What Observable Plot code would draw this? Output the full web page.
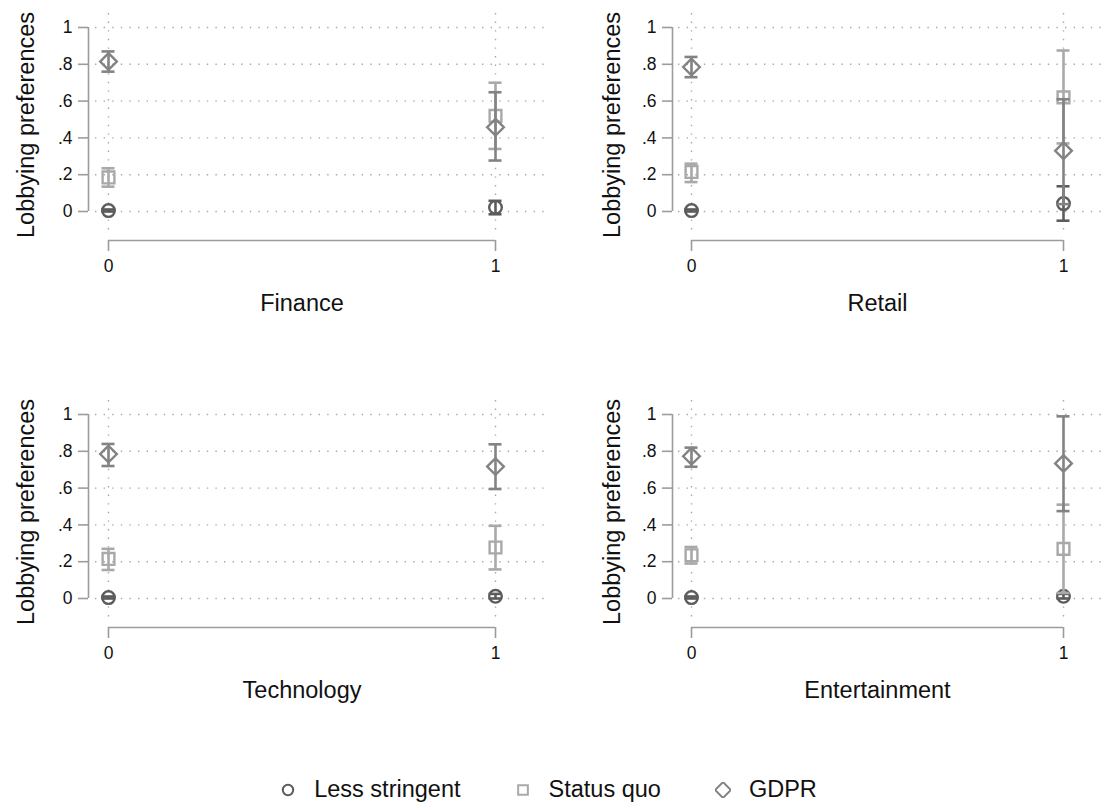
<!DOCTYPE html>
<html>
<head>
<meta charset="utf-8">
<script src="https://cdn.jsdelivr.net/npm/d3@7"></script>
<script src="https://cdn.jsdelivr.net/npm/@observablehq/plot@0.6"></script>
<style>
  body { margin: 0; background: #fff; font-family: "Liberation Sans", Arial, Helvetica, sans-serif; }
  #wrap { width: 1111px; height: 807px; position: relative; overflow: hidden; background: #fff; }
  .panel { position: absolute; }
  #legend { position: absolute; left: 0; top: 773px; width: 1097px; height: 33px; padding-right: 14px;
            display: flex; justify-content: center; align-items: center; font-size: 23.5px; color: #111; }
  .item { display: flex; align-items: center; margin: 0 27px; }
  .item svg { margin-right: 18px; }
</style>
</head>
<body>
<div id="wrap"><div id="legend"></div></div>
<script>
// ---------- data ----------
const sectors = ["Finance", "Retail", "Technology", "Entertainment"];
const xValues = [0, 1];
const yTicks = [0, 0.2, 0.4, 0.6, 0.8, 1];
const seriesNames = ["Less stringent", "Status quo", "GDPR"];

// values ordered: Finance x0, Finance x1, Retail x0, Retail x1, Technology x0, Technology x1, Entertainment x0, Entertainment x1
const lessMean = [0.005, 0.022, 0.005, 0.043, 0.005, 0.012, 0.005, 0.012];
const lessLo   = [0.000, -0.015, 0.000, -0.050, 0.000, 0.000, 0.000, 0.000];
const lessHi   = [0.011, 0.058, 0.011, 0.137, 0.011, 0.025, 0.011, 0.025];

const sqMean = [0.185, 0.52, 0.215, 0.62, 0.215, 0.277, 0.235, 0.27];
const sqLo   = [0.135, 0.34, 0.160, 0.37, 0.155, 0.158, 0.190, 0.03];
const sqHi   = [0.235, 0.70, 0.260, 0.875, 0.270, 0.395, 0.280, 0.51];

const gdprMean = [0.815, 0.458, 0.785, 0.33, 0.785, 0.717, 0.773, 0.734];
const gdprLo   = [0.760, 0.277, 0.730, 0.04, 0.720, 0.595, 0.716, 0.475];
const gdprHi   = [0.870, 0.648, 0.840, 0.61, 0.840, 0.838, 0.820, 0.990];

const seriesColors = ["#5c5c5c", "#a9a9a9", "#838383"];
const seriesSymbols = ["circle", "square2", "diamond2"];
const seriesR = [6.3, 7.5, 7.5];

// ---------- build rows ----------
const seriesData = [
  [lessMean, lessLo, lessHi],
  [sqMean, sqLo, sqHi],
  [gdprMean, gdprLo, gdprHi]
];
const rows = [];
seriesNames.forEach((s, si) => {
  const [m, lo, hi] = seriesData[si];
  sectors.forEach((sec, ki) => {
    xValues.forEach((xv, xi) => {
      const idx = ki * xValues.length + xi;
      rows.push({series: s, si, sector: sec, x: xv, mean: m[idx], lo: lo[idx], hi: hi[idx]});
    });
  });
});

// ---------- layout ----------
const layouts = [
  {width: 555, axis: 88, gridStart: 95, x0: 108, x1: 495, gridEnd: 545, ylab: 26},
  {width: 556, axis: 117, gridStart: 123, x0: 136, x1: 508, gridEnd: 553, ylab: 57}
];
const panelH = 387, y0px = 211, y1px = 27, frameTop = 13, frameBottom = 240;
const axisColor = "#9c9c9c";
const tickFont = 17.5, titleFont = 23.5;
const yTickSize = 10, yTickPad = 6, xTickSize = 11, xTickPad = 8;
const gridStyle = {stroke: "#a8a8a8", strokeOpacity: 1, strokeWidth: 1.4, strokeDasharray: "1.4 7.2"};
const fmt = d => d === 0 ? "0" : d === 1 ? "1" : d3.format(".1f")(d).replace(/^0/, "");

function panel(sector, col) {
  const L = layouts[col];
  const data = rows.filter(r => r.sector === sector);
  const marks = [
    Plot.gridY(yTicks, gridStyle),
    Plot.gridX(xValues, {...gridStyle, insetBottom: 5}),
    // y axis line + ticks + labels
    Plot.ruleX([xValues[0]], {y1: d3.min(yTicks), y2: d3.max(yTicks), dx: L.axis - L.x0, stroke: axisColor, strokeWidth: 1.6}),
    Plot.axisY(yTicks, {tickSize: yTickSize, dx: L.axis - L.gridStart, tickFormat: () => "",
                        stroke: axisColor, strokeWidth: 1.6, label: null}),
    Plot.text(yTicks, {y: d => d, frameAnchor: "left", textAnchor: "end", lineAnchor: "middle",
                       dx: L.axis - yTickSize - yTickPad - L.gridStart, fontSize: tickFont, fill: "#111", text: fmt}),
    // x axis line + ticks + labels
    Plot.ruleY([yTicks[0]], {x1: d3.min(xValues), x2: d3.max(xValues), dy: frameBottom - y0px, stroke: axisColor, strokeWidth: 1.6}),
    Plot.axisX(xValues, {tickSize: xTickSize, tickFormat: () => "", stroke: axisColor, strokeWidth: 1.6, label: null}),
    Plot.text(xValues, {x: d => d, frameAnchor: "bottom", textAnchor: "middle", lineAnchor: "top",
                        dy: xTickSize + xTickPad, fontSize: tickFont, fill: "#111", text: d => String(d)}),
    // axis titles
    Plot.text(["Lobbying preferences"], {frameAnchor: "left", textAnchor: "middle", lineAnchor: "middle",
              rotate: -90, dx: L.ylab - L.gridStart, dy: -2, fontSize: titleFont, fill: "#111", text: d => d}),
    Plot.text([sector], {x: d3.mean(xValues), frameAnchor: "bottom", textAnchor: "middle", lineAnchor: "middle",
              dy: 63, fontSize: titleFont, fill: "#111", text: d => d})
  ];
  seriesNames.forEach((s, si) => {
    const d = data.filter(r => r.si === si);
    const c = seriesColors[si];
    marks.push(
      Plot.ruleX(d, {x: "x", y1: "lo", y2: "hi", stroke: c, strokeWidth: 2.6}),
      Plot.ruleY(d, {y: "lo", x1: "x", x2: "x", insetLeft: -6.5, insetRight: -6.5, stroke: c, strokeWidth: 2.6}),
      Plot.ruleY(d, {y: "hi", x1: "x", x2: "x", insetLeft: -6.5, insetRight: -6.5, stroke: c, strokeWidth: 2.6}),
      Plot.dot(d, {x: "x", y: "mean", symbol: () => seriesSymbols[si], r: seriesR[si], stroke: c, fill: "none", strokeWidth: 2.4})
    );
  });
  return Plot.plot({
    width: L.width,
    height: panelH,
    marginLeft: L.gridStart,
    marginRight: L.width - L.gridEnd,
    marginTop: frameTop,
    marginBottom: panelH - frameBottom,
    x: {domain: [0, 1], range: [L.x0, L.x1]},
    y: {domain: [0, 1], range: [y0px, y1px]},
    symbol: {domain: seriesSymbols, range: seriesSymbols},
    style: {fontFamily: '"Liberation Sans", Arial, Helvetica, sans-serif', fontSize: "18px", color: "#111", background: "#fff", overflow: "visible"},
    marks
  });
}

const wrap = document.getElementById("wrap");
sectors.forEach((sec, i) => {
  const col = i % 2, row = Math.floor(i / 2);
  const div = document.createElement("div");
  div.className = "panel";
  div.style.left = (col === 0 ? 0 : 555) + "px";
  div.style.top = (row * panelH) + "px";
  div.appendChild(panel(sec, col));
  wrap.appendChild(div);
});

// ---------- legend ----------
const legend = document.getElementById("legend");
const legendSymbols = [d3.symbolCircle, d3.symbolSquare2, d3.symbolDiamond2];
const legendSizes = [85, 120, 160];
seriesNames.forEach((s, si) => {
  const item = document.createElement("div");
  item.className = "item";
  const svg = d3.create("svg").attr("width", 16).attr("height", 16);
  svg.append("path")
    .attr("transform", "translate(8,8)")
    .attr("d", d3.symbol(legendSymbols[si], legendSizes[si])())
    .attr("fill", "none")
    .attr("stroke", seriesColors[si])
    .attr("stroke-width", 2);
  item.appendChild(svg.node());
  const span = document.createElement("span");
  span.textContent = s;
  item.appendChild(span);
  legend.appendChild(item);
});
</script>
</body>
</html>
